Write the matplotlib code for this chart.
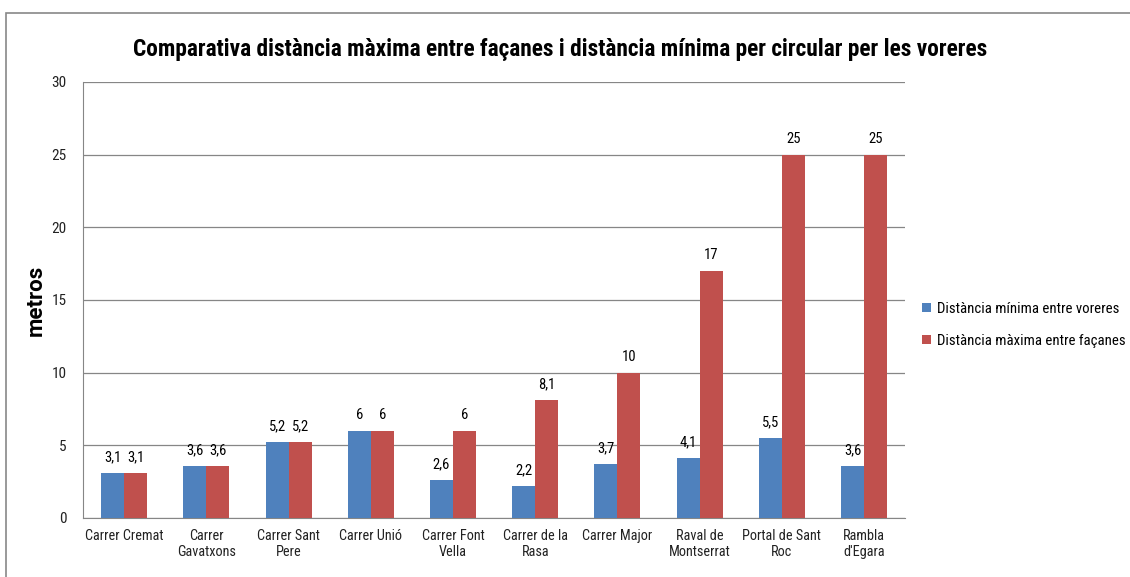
import numpy as np
import matplotlib.pyplot as plt
from matplotlib.patches import Rectangle
from matplotlib import font_manager

carrers = ['Carrer Cremat', 'Carrer\nGavatxons', 'Carrer Sant\nPere', 'Carrer Unió',
           'Carrer Font\nVella', 'Carrer de la\nRasa', 'Carrer Major', 'Raval de\nMontserrat',
           'Portal de Sant\nRoc', "Rambla\nd'Egara"]
dist_min = [3.1, 3.6, 5.2, 6, 2.6, 2.2, 3.7, 4.1, 5.5, 3.6]
dist_max = [3.1, 3.6, 5.2, 6, 6, 8.1, 10, 17, 25, 25]
etiquetes_min = ['3,1', '3,6', '5,2', '6', '2,6', '2,2', '3,7', '4,1', '5,5', '3,6']
etiquetes_max = ['3,1', '3,6', '5,2', '6', '6', '8,1', '10', '17', '25', '25']

# busquem una lletra estreta semblant a Calibri
noms = {f.name for f in font_manager.fontManager.ttflist}
font = 'Roboto'
for candidat in ['Roboto Condensed', 'Liberation Sans Narrow', 'Open Sans Condensed']:
    if candidat in noms:
        font = candidat
        break
plt.rcParams['font.family'] = [font, 'DejaVu Sans']

blau = '#4F81BD'
vermell = '#C0504D'

fig = plt.figure(figsize=(11.3, 5.77), dpi=100)
ax = fig.add_axes([0.0735, 0.1023, 0.7275, 0.7557])

x = np.arange(len(carrers))
w = 0.28
b1 = ax.bar(x - w / 2, dist_min, w, color=blau, label='Distància mínima entre voreres', zorder=3)
b2 = ax.bar(x + w / 2, dist_max, w, color=vermell, label='Distància màxima entre façanes', zorder=3)

for rect, txt in zip(b1, etiquetes_min):
    ax.text(rect.get_x() + rect.get_width() / 2, rect.get_height() + 0.6, txt,
            ha='center', va='bottom', fontsize=10.5)
for rect, txt in zip(b2, etiquetes_max):
    ax.text(rect.get_x() + rect.get_width() / 2, rect.get_height() + 0.6, txt,
            ha='center', va='bottom', fontsize=10.5)

ax.set_xlim(-0.5, len(carrers) - 0.5)
ax.set_ylim(0, 30)
ax.set_yticks(range(0, 31, 5))
ax.set_xticks(x)
ax.set_xticklabels(carrers)
ax.tick_params(axis='both', length=0, colors='#222222')
ax.tick_params(axis='x', labelsize=10.3, pad=8)
ax.tick_params(axis='y', labelsize=11, pad=12)
ax.grid(axis='y', color='#868686', linewidth=0.9, zorder=0)
for s in ['top', 'right']:
    ax.spines[s].set_visible(False)
ax.spines['left'].set_color('#868686')
ax.spines['bottom'].set_color('#868686')

ax.set_ylabel('metros', fontsize=16, fontweight='bold', labelpad=3,
              family=['Roboto', 'DejaVu Sans'])
fig.text(0.496, 0.915, 'Comparativa distància màxima entre façanes i distància mínima per circular per les voreres',
         ha='center', va='center', fontsize=16.8, fontweight='bold')

ax.legend(loc='center left', bbox_to_anchor=(1.01, 0.443), frameon=False, fontsize=10.6,
          handlelength=0.6, handleheight=0.6, handletextpad=0.4, labelspacing=1.2,
          borderaxespad=0.2)

fig.patches.append(Rectangle((0.005, -0.01), 1.0, 0.987, transform=fig.transFigure,
                             fill=False, edgecolor='#888888', linewidth=1.2))

fig.savefig('out.png', dpi=100)
